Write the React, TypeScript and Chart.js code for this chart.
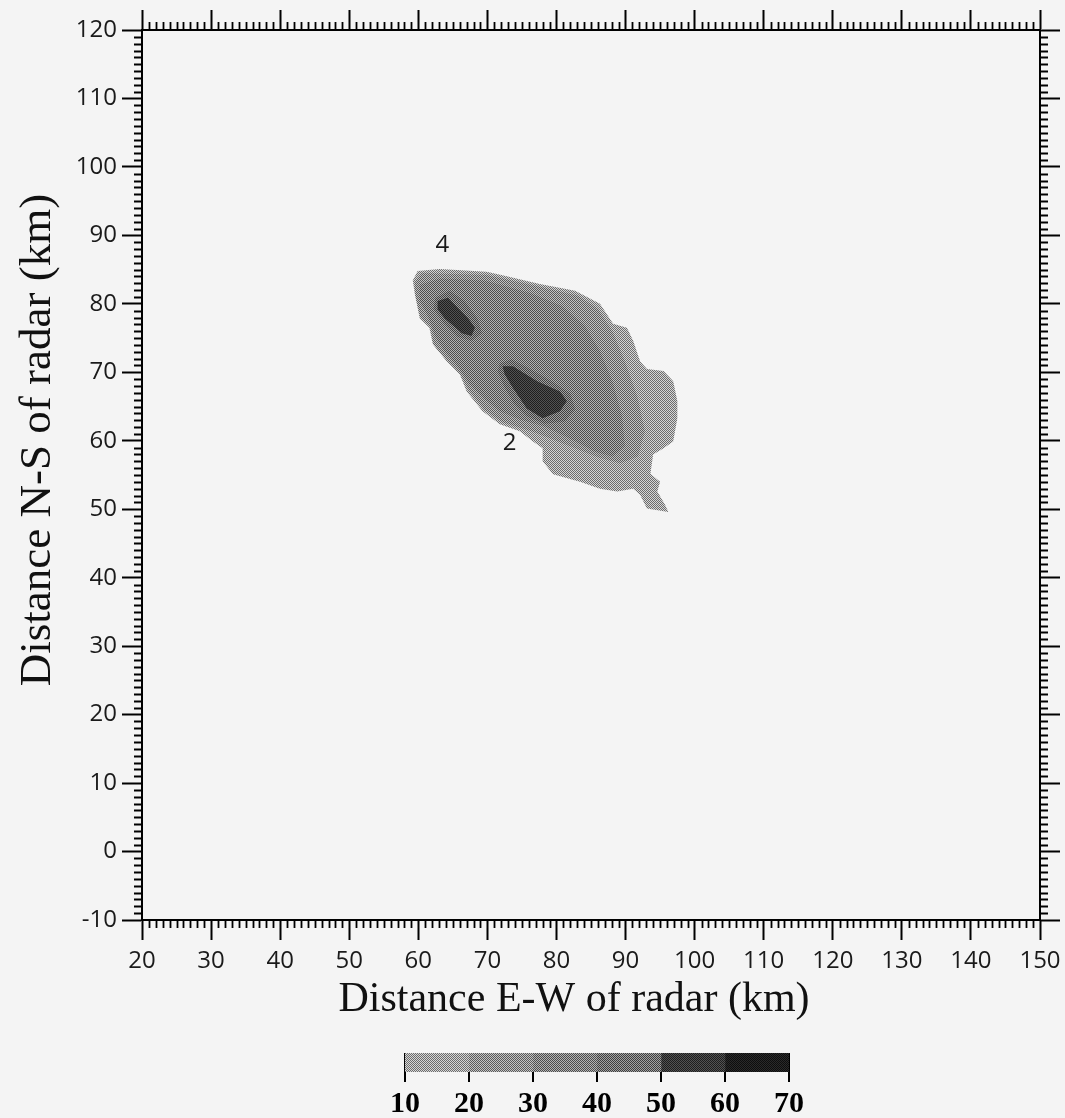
import React, { useEffect, useRef } from "react";
import { Chart, registerables } from "chart.js";

Chart.register(...registerables);

// ---------------- data ----------------
const xMin = 20;
const xMax = 150;
const yMin = -10;
const yMax = 120;
const majorStep = 10;
const minorStep = 1;

const xTitle = "Distance E-W of radar (km)";
const yTitle = "Distance N-S of radar (km)";

// reflectivity bins (dBZ) shown in the colour bar
const binEdges = [10, 20, 30, 40, 50, 60, 70];

// contour polygons, [x km, y km]
const contour10: number[][] = [
  [59.2, 83.4], [59.9, 84.8], [63.1, 85.1], [69.9, 84.7], [72.5, 84.1], [77.6, 82.9],
  [82.7, 81.9], [86.3, 80.0], [88.2, 77.1], [90.2, 76.5], [91.1, 74.6], [92.1, 71.6],
  [93.1, 70.5], [95.5, 70.2], [96.9, 68.7], [97.5, 65.8], [97.5, 63.3], [96.9, 59.9],
  [95.5, 58.9], [94.0, 58.0], [93.6, 55.2], [95.0, 54.0], [94.6, 52.6], [95.7, 50.7],
  [96.2, 49.6], [93.1, 50.1], [92.1, 52.1], [91.1, 53.0], [88.8, 52.6], [86.3, 53.0],
  [83.4, 54.0], [79.5, 55.1], [78.0, 57.0], [78.0, 58.9], [76.6, 59.9], [74.7, 61.4],
  [71.8, 62.4], [69.3, 64.3], [67.0, 67.2], [66.0, 69.7], [64.1, 71.6], [62.1, 74.1],
  [61.6, 76.5], [60.2, 77.9], [59.5, 81.4],
];
const contour20: number[][] = [
  [59.5, 83.1], [60.5, 84.5], [69.9, 84.2], [77.6, 82.5], [83.1, 81.2], [86.0, 79.3],
  [88.1, 76.0], [89.9, 71.6], [91.7, 66.5], [92.8, 61.4], [91.8, 57.7], [89.2, 56.7],
  [86.0, 57.6], [82.7, 58.9], [79.5, 60.2], [76.4, 61.4], [72.2, 62.7], [69.6, 64.5],
  [67.3, 67.4], [66.1, 69.7], [64.3, 71.6], [62.2, 74.1], [61.8, 76.5], [60.3, 78.1],
  [59.6, 81.3],
];
const contour30: number[][] = [
  [60.2, 82.8], [63.1, 83.7], [69.6, 83.4], [76.2, 81.6], [80.8, 79.7], [84.1, 76.8],
  [86.3, 73.1], [88.1, 68.7], [89.5, 63.6], [89.9, 59.2], [88.1, 57.7], [85.6, 58.4],
  [82.0, 60.3], [78.3, 62.1], [74.7, 63.1], [71.8, 64.3], [69.6, 66.1], [67.4, 68.3],
  [65.7, 70.9], [63.8, 73.1], [62.4, 75.3], [61.4, 78.2], [60.2, 80.4],
];
const contour40a: number[][] = [
  [62.5, 80.9], [64.5, 81.9], [66.7, 80.4], [68.6, 77.8], [69.2, 75.7], [67.7, 74.6],
  [65.7, 75.2], [63.7, 77.2], [62.2, 79.3],
];
const contour40b: number[][] = [
  [71.8, 71.3], [73.5, 71.9], [76.2, 70.5], [79.3, 68.7], [82.0, 66.9], [82.7, 64.6],
  [81.2, 62.8], [78.3, 62.5], [75.7, 63.6], [73.8, 65.5], [72.4, 68.0], [71.5, 70.2],
];
const contour50a: number[][] = [
  [62.8, 80.4], [64.3, 80.9], [67.2, 77.9], [68.2, 76.5], [67.7, 75.3], [66.3, 75.7],
  [63.8, 77.9], [62.8, 79.2],
];
const contour50b: number[][] = [
  [72.2, 70.9], [73.7, 70.9], [77.2, 68.7], [80.5, 67.2], [81.5, 65.8], [80.5, 64.3],
  [78.0, 63.3], [75.7, 64.7], [73.7, 67.7], [72.5, 69.7],
];

const contourPolygons = [contour10, contour20, contour30, contour40a, contour40b, contour50a, contour50b];
const contourLevels = [10, 20, 30, 40, 40, 50, 50];

// storm cell identifiers
const cellLabels = ["4", "2"];
const cellX = [63.5, 73.2];
const cellY = [88.6, 59.6];

// ---------------- styles ----------------
const shadeDark = ["#6c6c6c", "#5a5a5a", "#4c4c4c", "#3e3e3e", "#1e1e1e", "#0e0e0e"];
const shadeLight = ["#d6d6d6", "#c4c4c4", "#b4b4b4", "#a2a2a2", "#525252", "#2a2a2a"];
const PAGE_BG = "#f4f4f4";
const tickFont = { family: "'Open Sans', 'DejaVu Sans', sans-serif", size: 24 };

function makePattern(ctx: CanvasRenderingContext2D, i: number): CanvasPattern | string {
  const t = document.createElement("canvas");
  t.width = 2;
  t.height = 2;
  const c = t.getContext("2d")!;
  c.fillStyle = shadeLight[i];
  c.fillRect(0, 0, 2, 2);
  c.fillStyle = shadeDark[i];
  c.fillRect(0, 0, 1, 1);
  c.fillRect(1, 1, 1, 1);
  return ctx.createPattern(t, "repeat") || shadeDark[i];
}

const MAIN_W = 1065;
const MAIN_H = 1040;
const AREA_LEFT = 142;
const AREA_RIGHT = 1040;
const AREA_TOP = 30;
const AREA_BOTTOM = 920;

const minorTicksPlugin = {
  id: "minorTicks",
  afterDraw(chart: any) {
    const ctx = chart.ctx as CanvasRenderingContext2D;
    const a = chart.chartArea;
    ctx.save();
    ctx.strokeStyle = "#000";
    ctx.lineWidth = 1.8;
    const len = 8;
    ctx.beginPath();
    for (let v = xMin; v <= xMax; v += minorStep) {
      if (v % majorStep === 0) continue;
      const px = Math.round(chart.scales.x.getPixelForValue(v)) + 0.5;
      ctx.moveTo(px, a.bottom);
      ctx.lineTo(px, a.bottom + len);
      ctx.moveTo(px, a.top);
      ctx.lineTo(px, a.top - len);
    }
    for (let v = yMin; v <= yMax; v += minorStep) {
      if (v % majorStep === 0) continue;
      const py = Math.round(chart.scales.y.getPixelForValue(v)) + 0.5;
      ctx.moveTo(a.left, py);
      ctx.lineTo(a.left - len, py);
      ctx.moveTo(a.right, py);
      ctx.lineTo(a.right + len, py);
    }
    ctx.stroke();
    ctx.restore();
  },
};

const annotationPlugin = {
  id: "annot",
  afterDatasetsDraw(chart: any) {
    const ctx = chart.ctx as CanvasRenderingContext2D;
    ctx.save();
    ctx.fillStyle = "#1a1a1a";
    ctx.font = "24px 'Open Sans', 'DejaVu Sans', sans-serif";
    ctx.textAlign = "center";
    ctx.textBaseline = "middle";
    cellLabels.forEach((s, i) => {
      ctx.fillText(s, chart.scales.x.getPixelForValue(cellX[i]), chart.scales.y.getPixelForValue(cellY[i]));
    });
    ctx.restore();
  },
  afterDraw(chart: any) {
    const ctx = chart.ctx as CanvasRenderingContext2D;
    ctx.save();
    ctx.fillStyle = "#111";
    ctx.font = "42px 'Liberation Serif', 'Times New Roman', serif";
    ctx.textAlign = "center";
    ctx.textBaseline = "middle";
    ctx.fillText(xTitle, 574, 1000);
    ctx.font = "45px 'Liberation Serif', 'Times New Roman', serif";
    ctx.translate(38, 440);
    ctx.rotate(-Math.PI / 2);
    ctx.fillText(yTitle, 0, 0);
    ctx.restore();
  },
};

function axis(position: string, min: number, max: number, showLabels: boolean, fit: (s: any) => void) {
  return {
    type: "linear",
    position,
    min,
    max,
    afterFit: (s: any) => {
      fit(s);
      s.paddingLeft = 0;
      s.paddingRight = 0;
      s.paddingTop = 0;
      s.paddingBottom = 0;
    },
    ticks: {
      stepSize: majorStep,
      display: showLabels,
      autoSkip: false,
      maxRotation: 0,
      color: "#1a1a1a",
      font: tickFont,
      padding: position === "bottom" ? 7 : 5,
    },
    grid: {
      drawOnChartArea: false,
      drawTicks: true,
      tickLength: 20,
      tickWidth: 2,
      tickColor: "#000",
    },
    border: { display: true, color: "#000", width: 2 },
  };
}

function MainChart() {
  const ref = useRef<HTMLCanvasElement>(null);
  useEffect(() => {
    const canvas = ref.current!;
    const ctx = canvas.getContext("2d")!;
    const datasets = contourPolygons.map((poly, i) => {
      const bin = binEdges.indexOf(contourLevels[i]);
      const pts = poly.map((p) => ({ x: p[0], y: p[1] }));
      pts.push({ x: poly[0][0], y: poly[0][1] });
      return {
        data: pts,
        fill: "shape",
        backgroundColor: makePattern(ctx, bin),
        borderColor: "rgba(0,0,0,0)",
        borderWidth: 0,
        pointRadius: 0,
        tension: 0,
        order: 100 - contourLevels[i],
      };
    });
    const chart = new Chart(ctx, {
      type: "line",
      data: { datasets } as any,
      options: {
        animation: false,
        responsive: false,
        events: [],
        layout: { padding: 0 },
        plugins: { legend: { display: false }, tooltip: { enabled: false } },
        scales: {
          x: axis("bottom", xMin, xMax, true, (s: any) => { s.height = MAIN_H - AREA_BOTTOM; }),
          x2: axis("top", xMin, xMax, false, (s: any) => { s.height = AREA_TOP; }),
          y: axis("left", yMin, yMax, true, (s: any) => { s.width = AREA_LEFT; }),
          y2: axis("right", yMin, yMax, false, (s: any) => { s.width = MAIN_W - AREA_RIGHT; }),
        } as any,
      },
      plugins: [minorTicksPlugin, annotationPlugin],
    });
    return () => chart.destroy();
  }, []);
  return (
    <canvas
      ref={ref}
      width={MAIN_W}
      height={MAIN_H}
      style={{ position: "absolute", left: 0, top: 0, width: MAIN_W, height: MAIN_H }}
    />
  );
}

function ColorBar() {
  const ref = useRef<HTMLCanvasElement>(null);
  useEffect(() => {
    const canvas = ref.current!;
    const ctx = canvas.getContext("2d")!;
    const datasets = binEdges.slice(0, -1).map((lo, i) => ({
      data: [[lo, binEdges[i + 1]]],
      backgroundColor: makePattern(ctx, i),
      borderWidth: 0,
      grouped: false,
      barPercentage: 1,
      categoryPercentage: 1,
    }));
    const chart = new Chart(ctx, {
      type: "bar",
      data: { labels: [""], datasets } as any,
      options: {
        indexAxis: "y",
        animation: false,
        responsive: false,
        events: [],
        layout: { padding: { left: 25, right: 31, top: 13, bottom: 0 } },
        plugins: { legend: { display: false }, tooltip: { enabled: false } },
        scales: {
          x: {
            type: "linear",
            position: "bottom",
            min: binEdges[0],
            max: binEdges[binEdges.length - 1],
            z: 1,
            afterFit: (s: any) => {
              s.height = 46;
              s.paddingLeft = 0;
              s.paddingRight = 0;
            },
            ticks: {
              stepSize: 10,
              autoSkip: false,
              maxRotation: 0,
              color: "#000",
              padding: 4,
              font: { family: "'Liberation Serif', 'Times New Roman', serif", size: 30, weight: "bold" },
            },
            grid: { drawOnChartArea: true, tickLength: 10, color: "#000", lineWidth: 2 },
            border: { display: false },
          },
          y: { display: false },
        } as any,
      },
    });
    return () => chart.destroy();
  }, []);
  return (
    <canvas
      ref={ref}
      width={440}
      height={78}
      style={{ position: "absolute", left: 380, top: 1040, width: 440, height: 78 }}
    />
  );
}

export default function App() {
  return (
    <div
      style={{
        position: "absolute",
        left: 0,
        top: 0,
        width: 1065,
        height: 1118,
        background: PAGE_BG,
        overflow: "hidden",
      }}
    >
      <MainChart />
      <ColorBar />
    </div>
  );
}
